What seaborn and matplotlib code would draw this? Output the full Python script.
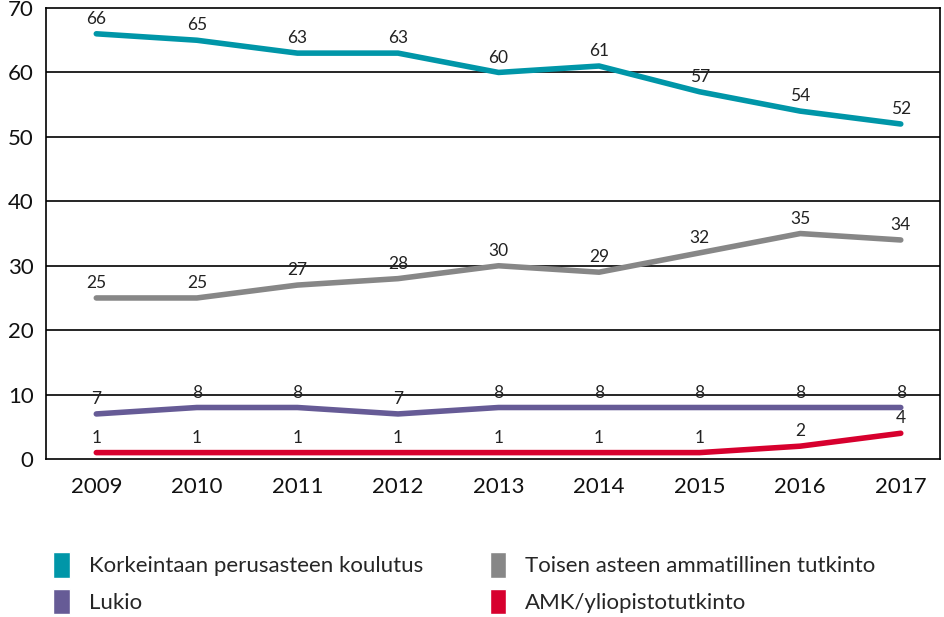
import matplotlib.pyplot as plt
import seaborn as sns
import pandas as pd
from matplotlib.patches import Patch

years = ["2009", "2010", "2011", "2012", "2013", "2014", "2015", "2016", "2017"]
perusaste = [66, 65, 63, 63, 60, 61, 57, 54, 52]
ammatillinen = [25, 25, 27, 28, 30, 29, 32, 35, 34]
lukio = [7, 8, 8, 7, 8, 8, 8, 8, 8]
korkea = [1, 1, 1, 1, 1, 1, 1, 2, 4]

series = {
    "Korkeintaan perusasteen koulutus": perusaste,
    "Toisen asteen ammatillinen tutkinto": ammatillinen,
    "Lukio": lukio,
    "AMK/yliopistotutkinto": korkea,
}
colors = {
    "Korkeintaan perusasteen koulutus": "#0096A8",
    "Toisen asteen ammatillinen tutkinto": "#878787",
    "Lukio": "#665B96",
    "AMK/yliopistotutkinto": "#D7002E",
}

rows = []
for name, vals in series.items():
    for i, v in enumerate(vals):
        rows.append({"i": i, "value": v, "series": name})
df = pd.DataFrame(rows)

sns.set_style("white")
plt.rcParams["font.family"] = ["Lato", "DejaVu Sans"]

fig = plt.figure(figsize=(9.45, 6.17), dpi=100)
ax = fig.add_axes([0.0487, 0.256, 0.946, 0.731])

sns.lineplot(data=df, x="i", y="value", hue="series", palette=colors,
             linewidth=4, legend=False, ax=ax, solid_capstyle="round")

# value labels above points
for name, vals in series.items():
    for i, v in enumerate(vals):
        ax.annotate(str(v), (i, v), xytext=(0, 5), textcoords="offset points",
                    ha="center", va="bottom", fontsize=12.5, color="#222222")

ax.set_xlim(-0.5, 8.39)
ax.set_ylim(0, 70)
ax.set_yticks(range(0, 71, 10))
ax.set_xticks(range(len(years)))
ax.set_xticklabels(years)
ax.tick_params(axis="both", labelsize=16, length=0, colors="#111111")
ax.tick_params(axis="x", pad=13)
ax.tick_params(axis="y", pad=9)
ax.set_xlabel("")
ax.set_ylabel("")
for s in ax.spines.values():
    s.set_color("black")
    s.set_linewidth(1.2)
for y in range(10, 70, 10):
    ax.axhline(y, color="black", linewidth=1.2, zorder=0)

handles = [Patch(facecolor=colors[n], label=n) for n in
           ["Korkeintaan perusasteen koulutus", "Lukio",
            "Toisen asteen ammatillinen tutkinto", "AMK/yliopistotutkinto"]]
fig.legend(handles=handles, ncol=2, loc="upper left",
           bbox_to_anchor=(0.035, 0.138), frameon=False, fontsize=16,
           handlelength=0.75, handleheight=1.4, handletextpad=0.85,
           columnspacing=3.0, labelspacing=0.5)

fig.savefig("out.png", dpi=100)
